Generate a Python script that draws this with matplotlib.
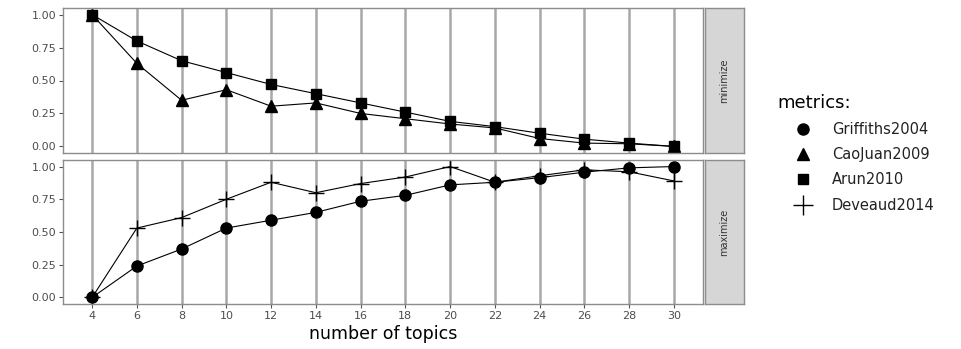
import matplotlib
matplotlib.use("Agg")
import matplotlib.pyplot as plt
from matplotlib.lines import Line2D

plt.rcParams['font.family'] = ['DejaVu Sans']

# number of topics
topics = [4, 6, 8, 10, 12, 14, 16, 18, 20, 22, 24, 26, 28, 30]

# minimize
caojuan2009 = [1.00, 0.63, 0.35, 0.43, 0.305, 0.33, 0.25, 0.21, 0.17, 0.14, 0.06, 0.025, 0.02, 0.00]
arun2010 = [1.00, 0.80, 0.65, 0.56, 0.47, 0.40, 0.33, 0.26, 0.19, 0.15, 0.10, 0.055, 0.025, 0.00]

# maximize
griffiths2004 = [0.00, 0.24, 0.37, 0.53, 0.59, 0.65, 0.735, 0.78, 0.86, 0.88, 0.915, 0.957, 0.99, 1.00]
deveaud2014 = [0.00, 0.53, 0.61, 0.75, 0.88, 0.80, 0.87, 0.92, 1.00, 0.88, 0.93, 0.975, 0.96, 0.89]

W, H = 961, 349
fig = plt.figure(figsize=(W / 100, H / 100), dpi=100)


def box(x0, y0, x1, y1):
    # pixel box -> figure fraction
    return [x0 / W, 1 - y1 / H, (x1 - x0) / W, (y1 - y0) / H]


def style_panel(ax, show_x):
    ax.set_xlim(2.7, 31.3)
    ax.set_ylim(-0.05, 1.05)
    ax.set_xticks(topics)
    ax.set_yticks([0, 0.25, 0.5, 0.75, 1.0])
    ax.set_yticklabels(["0.00", "0.25", "0.50", "0.75", "1.00"])
    ax.grid(axis='x', color='#a8a8a8', linewidth=1.8)
    ax.set_axisbelow(True)
    for s in ax.spines.values():
        s.set_color('#8c8c8c')
        s.set_linewidth(1.0)
    ax.tick_params(axis='y', colors='#555555', labelsize=8, length=3, width=0.8,
                   pad=2, labelcolor='#4d4d4d')
    if show_x:
        ax.tick_params(axis='x', colors='#555555', labelsize=8, length=3, width=0.8,
                       pad=2, labelcolor='#4d4d4d')
    else:
        ax.tick_params(axis='x', length=0, labelbottom=False)


def strip(y0, y1, label):
    sax = fig.add_axes(box(705, y0, 744, y1))
    sax.set_facecolor('#d6d6d6')
    sax.set_xticks([])
    sax.set_yticks([])
    for s in sax.spines.values():
        s.set_color('#8c8c8c')
        s.set_linewidth(1.0)
    sax.text(0.5, 0.5, label, rotation=90, ha='center', va='center',
             fontsize=7, color='#333333', transform=sax.transAxes)


ax1 = fig.add_axes(box(63, 8, 703, 153))
ax1.plot(topics, caojuan2009, color='black', lw=0.8, marker='^', ms=8)
ax1.plot(topics, arun2010, color='black', lw=0.8, marker='s', ms=7.5)
style_panel(ax1, False)
strip(8, 153, "minimize")

ax2 = fig.add_axes(box(63, 160, 703, 304))
ax2.plot(topics, griffiths2004, color='black', lw=0.8, marker='o', ms=8)
ax2.plot(topics, deveaud2014, color='black', lw=0.8, marker='+', ms=12, mew=1.0)
style_panel(ax2, True)
strip(160, 304, "maximize")

fig.text(383 / W, 1 - 334 / H, "number of topics", ha='center', va='center',
         fontsize=12.5, color='black')

handles = [
    Line2D([], [], color='black', marker='o', ls='none', ms=8),
    Line2D([], [], color='black', marker='^', ls='none', ms=8),
    Line2D([], [], color='black', marker='s', ls='none', ms=7.5),
    Line2D([], [], color='black', marker='+', ls='none', ms=14, mew=1.0),
]
labels = ["Griffiths2004", "CaoJuan2009", "Arun2010", "Deveaud2014"]
leg = fig.legend(handles, labels, title="metrics:", loc='upper left',
                 bbox_to_anchor=(772 / W, 1 - 88 / H), frameon=False,
                 fontsize=10.5, title_fontsize=13, labelspacing=0.7,
                 handlelength=3.4, handletextpad=0.3, borderaxespad=0)
leg._legend_box.align = "left"
for t in leg.get_texts():
    t.set_color('#222222')

fig.savefig("out.png", dpi=100)
